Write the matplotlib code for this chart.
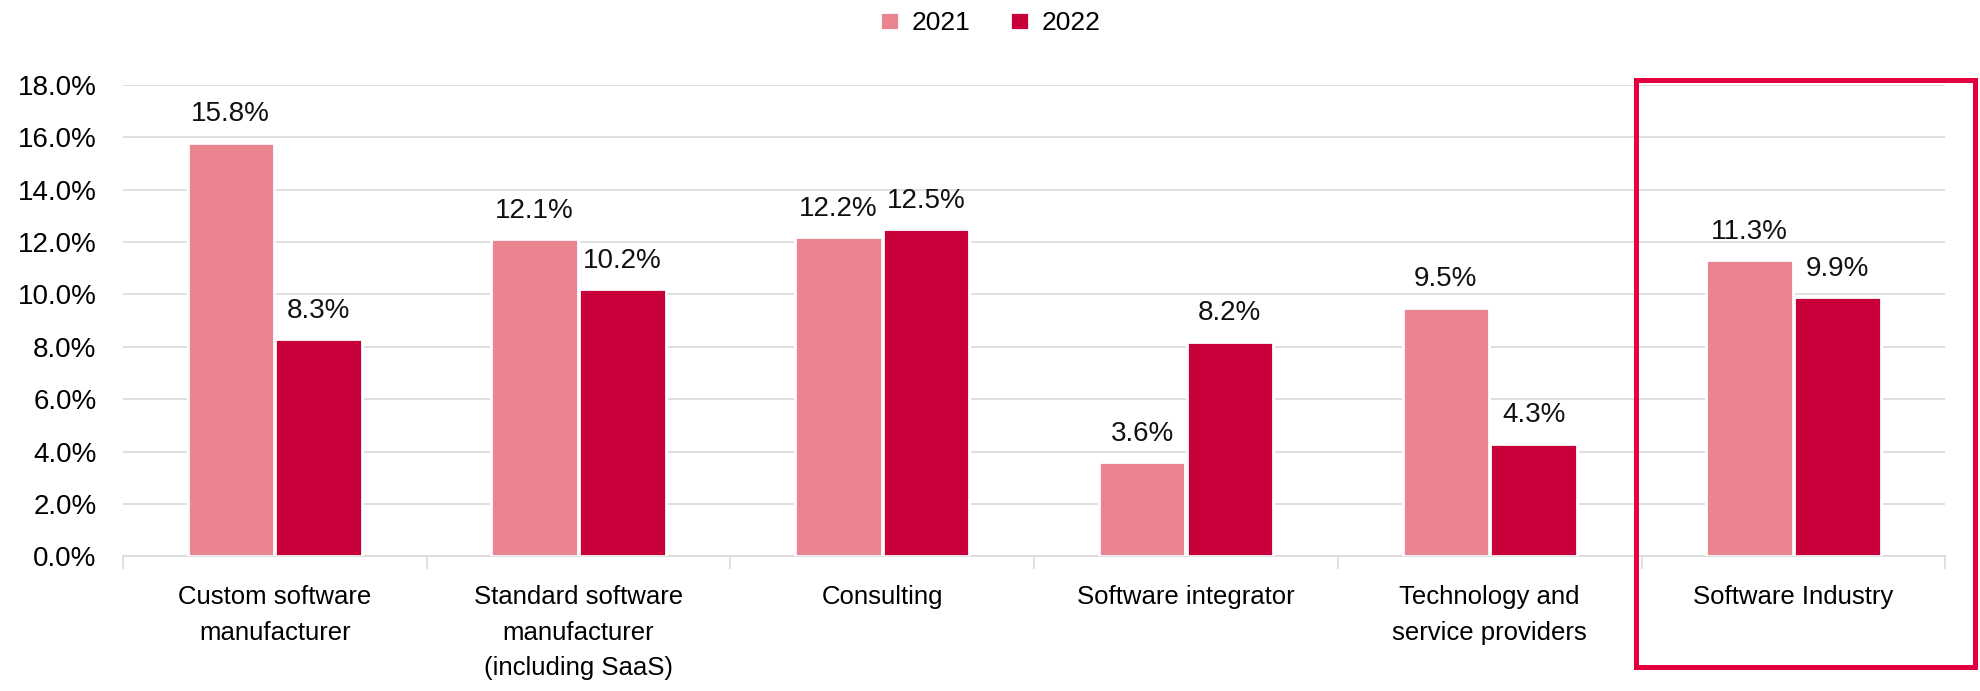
import numpy as np
import matplotlib.pyplot as plt
from matplotlib.patches import Rectangle
from matplotlib.ticker import FuncFormatter

# ==============================================================================
#                               Chart data
# ==============================================================================

categories = ["Custom software\nmanufacturer",
              "Standard software\nmanufacturer\n(including SaaS)",
              "Consulting",
              "Software integrator",
              "Technology and\nservice providers",
              "Software Industry"]
series_names = ["2021", "2022"]
values_2021 = [15.8, 12.1, 12.2, 3.6, 9.5, 11.3]
values_2022 = [8.3, 10.2, 12.5, 8.2, 4.3, 9.9]
y_ticks = [0, 2, 4, 6, 8, 10, 12, 14, 16, 18]

color_2021 = "#EA8490"
color_2022 = "#C8003A"
box_color = "#E4003F"

plt.rcParams['font.family'] = ['Liberation Sans', 'DejaVu Sans']

fig = plt.figure(figsize=(19.81, 6.91), dpi=100)
ax = fig.add_axes([0.062, 0.195, 0.92, 0.682])

x = np.arange(len(categories))
width = 0.285
gap = 0.002

bars_a = ax.bar(x - width / 2 - gap, values_2021, width, color=color_2021,
                edgecolor="white", linewidth=2, zorder=3, label=series_names[0])
bars_b = ax.bar(x + width / 2 + gap, values_2022, width, color=color_2022,
                edgecolor="white", linewidth=2, zorder=3, label=series_names[1])

for bars in (bars_a, bars_b):
    for b in bars:
        ax.annotate(f"{b.get_height():.1f}%",
                    (b.get_x() + b.get_width() / 2, b.get_height()),
                    xytext=(0, 11), textcoords="offset points",
                    ha="center", va="bottom", fontsize=20, color="#111111")

ax.set_ylim(0, 18)
ax.set_xlim(-0.5, len(categories) - 0.5)
ax.set_yticks(y_ticks)
ax.yaxis.set_major_formatter(FuncFormatter(lambda v, p: f"{v:.1f}%"))
ax.grid(axis="y", color="#D9D9D9", linewidth=1.2, zorder=0)
ax.set_axisbelow(True)

ax.set_xticks(x)
ax.set_xticklabels(categories, fontsize=18.5, linespacing=1.6)
ax.set_xticks(np.arange(len(categories) + 1) - 0.5, minor=True)
ax.tick_params(axis="x", which="major", length=0, pad=21)
ax.tick_params(axis="x", which="minor", length=9, color="#D9D9D9", width=1.2)
ax.tick_params(axis="y", length=0, labelsize=20, pad=19)

for s in ["top", "right", "left"]:
    ax.spines[s].set_visible(False)
ax.spines["bottom"].set_color("#D9D9D9")
ax.spines["bottom"].set_linewidth(1.2)

fig.legend(loc="center", bbox_to_anchor=(0.5, 0.966), ncol=2, frameon=False,
           fontsize=19, handlelength=0.7, handleheight=0.7, handletextpad=0.5,
           columnspacing=1.5)

# highlight box around the last group
fig.patches.append(Rectangle((0.826, 0.035), 0.171, 0.849,
                             transform=fig.transFigure, fill=False,
                             edgecolor=box_color, linewidth=3.6, zorder=5))

fig.savefig("out.png", dpi=100)
